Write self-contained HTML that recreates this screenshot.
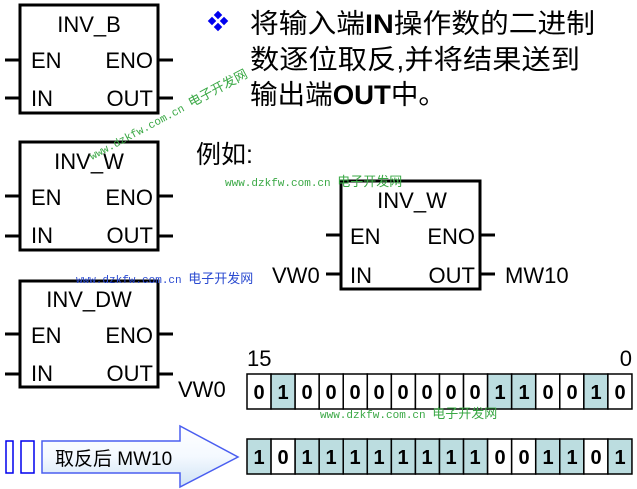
<!DOCTYPE html>
<html><head><meta charset="utf-8"><style>
html,body{margin:0;padding:0;background:#fff;width:637px;height:489px;overflow:hidden}
svg{display:block}
text{font-family:"Liberation Sans","Noto Sans CJK SC",sans-serif}
text.wm{font-family:"Liberation Mono","Noto Sans CJK SC",monospace}
</style></head><body>
<svg width="637" height="489" viewBox="0 0 637 489" xmlns="http://www.w3.org/2000/svg">
<defs>
<linearGradient id="ag" x1="0" y1="0" x2="0" y2="1">
<stop offset="0" stop-color="#ffffff"/><stop offset="0.5" stop-color="#f4f9ff"/><stop offset="1" stop-color="#cfe3f5"/>
</linearGradient>
</defs>
<g stroke="#000" stroke-width="3" fill="none">
<rect x="20" y="5" width="138" height="108"/>
<rect x="20" y="142" width="138" height="108"/>
<rect x="20" y="281" width="138" height="106"/>
<rect x="341" y="181" width="139" height="108"/>
<path d="M5 60H20M5 98H20M158 60H173M158 98H173"/>
<path d="M5 196H20M5 236H20M158 196H173M158 236H173"/>
<path d="M5 334H20M5 374H20M158 334H173M158 374H173"/>
<path d="M326 235H341M326 274H341M480 235H495M480 274H495"/>
</g>
<g font-size="22" fill="#000">
<text x="89" y="32" text-anchor="middle">INV_B</text>
<text x="31" y="68">EN</text><text x="153" y="68" text-anchor="end">ENO</text>
<text x="31" y="106">IN</text><text x="153" y="106" text-anchor="end">OUT</text>
<text x="89" y="169" text-anchor="middle">INV_W</text>
<text x="31" y="205">EN</text><text x="153" y="205" text-anchor="end">ENO</text>
<text x="31" y="243">IN</text><text x="153" y="243" text-anchor="end">OUT</text>
<text x="89" y="307" text-anchor="middle">INV_DW</text>
<text x="31" y="343">EN</text><text x="153" y="343" text-anchor="end">ENO</text>
<text x="31" y="381">IN</text><text x="153" y="381" text-anchor="end">OUT</text>
<text x="412" y="208" text-anchor="middle">INV_W</text>
<text x="350" y="244">EN</text><text x="475" y="244" text-anchor="end">ENO</text>
<text x="350" y="283">IN</text><text x="475" y="283" text-anchor="end">OUT</text>
<text x="272" y="283">VW0</text>
<text x="505" y="283">MW10</text>
<text x="178" y="397">VW0</text>
<text x="247" y="366">15</text>
<text x="632" y="366" text-anchor="end">0</text>
</g>
<g fill="#0000ee">
<rect x="215" y="12" width="6" height="6" transform="rotate(45 218 15)"/>
<rect x="209" y="18" width="6" height="6" transform="rotate(45 212 21)"/>
<rect x="221" y="18" width="6" height="6" transform="rotate(45 224 21)"/>
<rect x="215" y="24" width="6" height="6" transform="rotate(45 218 27)"/>
</g>
<g font-size="27" fill="#000">
<text x="250" y="33" textLength="345" lengthAdjust="spacingAndGlyphs">将输入端<tspan font-weight="bold">IN</tspan>操作数的二进制</text>
<text x="250" y="69" textLength="330" lengthAdjust="spacingAndGlyphs">数逐位取反,并将结果送到</text>
<text x="250" y="104" textLength="196" lengthAdjust="spacingAndGlyphs">输出端<tspan font-weight="bold">OUT</tspan>中。</text>
<text x="196" y="163" font-size="25">例如:</text>
</g>
<g id="bits">
<g stroke="#000" stroke-width="1.5">
<rect x="247" y="374" width="24.06" height="35" fill="#fff"/>
<rect x="271.06" y="374" width="24.06" height="35" fill="#bcdde0"/>
<rect x="295.12" y="374" width="24.06" height="35" fill="#fff"/>
<rect x="319.18" y="374" width="24.06" height="35" fill="#fff"/>
<rect x="343.24" y="374" width="24.06" height="35" fill="#fff"/>
<rect x="367.3" y="374" width="24.06" height="35" fill="#fff"/>
<rect x="391.36" y="374" width="24.06" height="35" fill="#fff"/>
<rect x="415.42" y="374" width="24.06" height="35" fill="#fff"/>
<rect x="439.48" y="374" width="24.06" height="35" fill="#fff"/>
<rect x="463.54" y="374" width="24.06" height="35" fill="#fff"/>
<rect x="487.6" y="374" width="24.06" height="35" fill="#bcdde0"/>
<rect x="511.66" y="374" width="24.06" height="35" fill="#bcdde0"/>
<rect x="535.72" y="374" width="24.06" height="35" fill="#fff"/>
<rect x="559.78" y="374" width="24.06" height="35" fill="#fff"/>
<rect x="583.84" y="374" width="24.06" height="35" fill="#bcdde0"/>
<rect x="607.9" y="374" width="24.06" height="35" fill="#fff"/>

<rect x="247" y="439" width="24.06" height="35" fill="#bcdde0"/>
<rect x="271.06" y="439" width="24.06" height="35" fill="#fff"/>
<rect x="295.12" y="439" width="24.06" height="35" fill="#bcdde0"/>
<rect x="319.18" y="439" width="24.06" height="35" fill="#bcdde0"/>
<rect x="343.24" y="439" width="24.06" height="35" fill="#bcdde0"/>
<rect x="367.3" y="439" width="24.06" height="35" fill="#bcdde0"/>
<rect x="391.36" y="439" width="24.06" height="35" fill="#bcdde0"/>
<rect x="415.42" y="439" width="24.06" height="35" fill="#bcdde0"/>
<rect x="439.48" y="439" width="24.06" height="35" fill="#bcdde0"/>
<rect x="463.54" y="439" width="24.06" height="35" fill="#bcdde0"/>
<rect x="487.6" y="439" width="24.06" height="35" fill="#fff"/>
<rect x="511.66" y="439" width="24.06" height="35" fill="#fff"/>
<rect x="535.72" y="439" width="24.06" height="35" fill="#bcdde0"/>
<rect x="559.78" y="439" width="24.06" height="35" fill="#bcdde0"/>
<rect x="583.84" y="439" width="24.06" height="35" fill="#fff"/>
<rect x="607.9" y="439" width="24.06" height="35" fill="#bcdde0"/>
</g>
<g font-size="20" font-weight="bold" text-anchor="middle" fill="#000">
<text x="259" y="399">0</text><text x="283" y="399">1</text><text x="307" y="399">0</text><text x="331" y="399">0</text>
<text x="355" y="399">0</text><text x="379" y="399">0</text><text x="403" y="399">0</text><text x="427" y="399">0</text>
<text x="451" y="399">0</text><text x="475" y="399">0</text><text x="500" y="399">1</text><text x="524" y="399">1</text>
<text x="548" y="399">0</text><text x="572" y="399">0</text><text x="596" y="399">1</text><text x="620" y="399">0</text>
<text x="259" y="464">1</text><text x="283" y="464">0</text><text x="307" y="464">1</text><text x="331" y="464">1</text>
<text x="355" y="464">1</text><text x="379" y="464">1</text><text x="403" y="464">1</text><text x="427" y="464">1</text>
<text x="451" y="464">1</text><text x="475" y="464">1</text><text x="500" y="464">0</text><text x="524" y="464">0</text>
<text x="548" y="464">1</text><text x="572" y="464">1</text><text x="596" y="464">0</text><text x="620" y="464">1</text>
</g>
</g>
<rect x="6" y="441" width="7" height="32" fill="none" stroke="#0000ee" stroke-width="1.5"/>
<rect x="21" y="441" width="13" height="32" fill="none" stroke="#0000ee" stroke-width="1.5"/>
<path d="M42 441H180V426L238 457L180 487V473H42Z" fill="url(#ag)" stroke="#4a5ef0" stroke-width="1.5"/>
<text x="55" y="465" font-size="19" fill="#000">取反后 MW10</text>
<g font-size="11">
<text class="wm" x="225" y="186" fill="#3aa845">www.dzkfw.com.cn <tspan font-size="13">电子开发网</tspan></text>
<text class="wm" x="76" y="283" fill="#2a4ad0">www.dzkfw.com.cn <tspan font-size="13">电子开发网</tspan></text>
<text class="wm" x="320" y="418" fill="#3aa845">www.dzkfw.com.cn <tspan font-size="13">电子开发网</tspan></text>
<text class="wm" x="92" y="160" fill="#3aa845" transform="rotate(-28 92 160)">www.dzkfw.com.cn <tspan font-size="13">电子开发网</tspan></text>
</g>
</svg>
</body></html>
